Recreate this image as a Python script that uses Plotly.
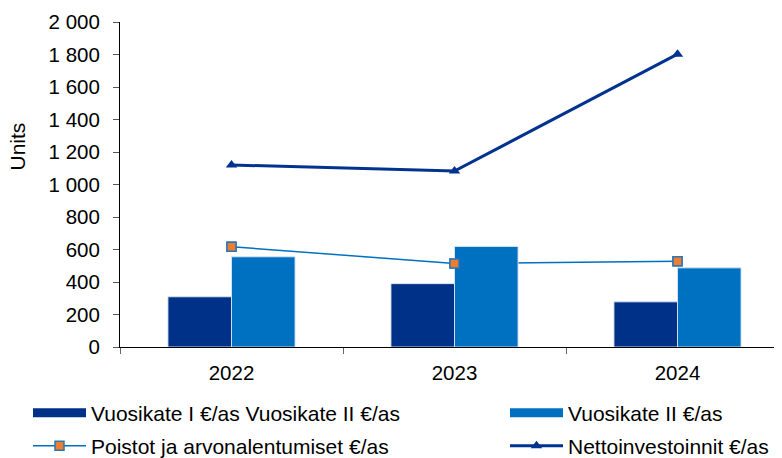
import plotly.graph_objects as go

years = ["2022", "2023", "2024"]
vuosikate_1 = [309, 390, 278]
vuosikate_2 = [555, 619, 487]
poistot = [617, 514, 528]
netto = [1120, 1083, 1802]

names = {
    "v1": "Vuosikate I €/as Vuosikate II €/as",
    "v2": "Vuosikate II €/as",
    "p": "Poistot ja arvonalentumiset €/as",
    "n": "Nettoinvestoinnit €/as",
}

DARK = "#003189"
LIGHT = "#0070C0"
ORANGE = "#ED7D31"
NAVY = "#00338F"
FONT = "Liberation Sans, Arial, sans-serif"

OFF = 8  # page body offset
W, H = 782 - OFF, 458 - OFF
L, T, B, R = 112, 14, 111, 0
plot_w = W - L - R
plot_h = H - T - B


def cx(page_x):
    return (page_x - OFF) / W


def cy(page_y):
    return 1 - (page_y - OFF) / H


fig = go.Figure()

# Poistot line drawn beneath the bars (base subplot)
fig.add_trace(go.Scatter(
    x=years, y=poistot, name=names["p"], mode="lines+markers",
    line=dict(color=LIGHT, width=1.5),
    marker=dict(symbol="square", size=9, color=ORANGE, line=dict(color="#2E75B6", width=1.5)),
    xaxis="x", yaxis="y", legend="legend3",
))

# Bars on overlay subplot
bar_line = dict(color="rgba(220,230,245,0.9)", width=1)
fig.add_trace(go.Bar(
    x=years, y=vuosikate_1, name=names["v1"], marker=dict(color=DARK, line=bar_line),
    xaxis="x2", yaxis="y2", showlegend=False,
))
fig.add_trace(go.Bar(
    x=years, y=vuosikate_2, name=names["v2"], marker=dict(color=LIGHT, line=bar_line),
    xaxis="x2", yaxis="y2", showlegend=False,
))

# Poistot markers above bars
fig.add_trace(go.Scatter(
    x=years, y=poistot, name=names["p"], mode="markers",
    marker=dict(symbol="square", size=9, color=ORANGE, line=dict(color="#2E75B6", width=1.5)),
    xaxis="x2", yaxis="y2", showlegend=False,
))

fig.add_trace(go.Scatter(
    x=years, y=netto, name=names["n"], mode="lines+markers",
    line=dict(color=NAVY, width=3),
    marker=dict(symbol="triangle-up", size=10, color=NAVY),
    xaxis="x2", yaxis="y2", legend="legend4",
))

# Legend entries for the bars (wide flat swatches)
fig.add_trace(go.Scatter(
    x=[None], y=[None], name=names["v1"], mode="lines",
    line=dict(color=DARK, width=9), xaxis="x2", yaxis="y2", legend="legend",
))
fig.add_trace(go.Scatter(
    x=[None], y=[None], name=names["v2"], mode="lines",
    line=dict(color=LIGHT, width=9), xaxis="x2", yaxis="y2", legend="legend2",
))


def leg(px, py):
    return dict(
        xref="container", yref="container",
        x=cx(px), xanchor="left", y=cy(py), yanchor="middle",
        itemwidth=53, font=dict(size=21, family=FONT, color="black"),
        bgcolor="rgba(0,0,0,0)", borderwidth=0,
    )


col1, col2 = 28, 505
row1, row2 = 413, 446

title_px, title_py = 17, 146.5
cat_px = 223  # pixels per category in the reference
x_max = -0.5 + plot_w / cat_px

fig.update_layout(
    width=W, height=H,
    margin=dict(l=L, r=R, t=T, b=B, autoexpand=False),
    paper_bgcolor="white", plot_bgcolor="white",
    font=dict(family=FONT, size=20.5, color="black"),
    separators=", ",
    barmode="group", bargap=0.43, bargroupgap=0,
    xaxis=dict(
        type="category", categoryorder="array", categoryarray=years,
        range=[-0.5, x_max], showline=True, linecolor="black", linewidth=1,
        ticks="outside", tickson="boundaries", ticklen=6, tickcolor="#666",
        showgrid=False, zeroline=False, ticklabelstandoff=7,
    ),
    yaxis=dict(
        range=[0, 2000], dtick=200, tickformat=",d",
        showline=True, linecolor="black", linewidth=1,
        ticks="outside", ticklen=6, tickcolor="#555",
        showgrid=False, zeroline=False, ticklabelstandoff=9,
    ),
    xaxis2=dict(overlaying="x", matches="x", visible=False, type="category",
                categoryorder="array", categoryarray=years),
    yaxis2=dict(overlaying="y", matches="y", visible=False),
    legend=leg(col1, row1),
    legend2=leg(col2, row1),
    legend3=leg(col1, row2),
    legend4=leg(col2, row2),
    showlegend=True,
    annotations=[dict(
        text="Units", textangle=-90, showarrow=False,
        xref="paper", yref="paper",
        x=(title_px - OFF - L) / plot_w, y=(H - B - (title_py - OFF)) / plot_h,
        xanchor="center", yanchor="middle",
        font=dict(size=21, family=FONT, color="black"),
    )],
)

fig.write_html("out.html")
